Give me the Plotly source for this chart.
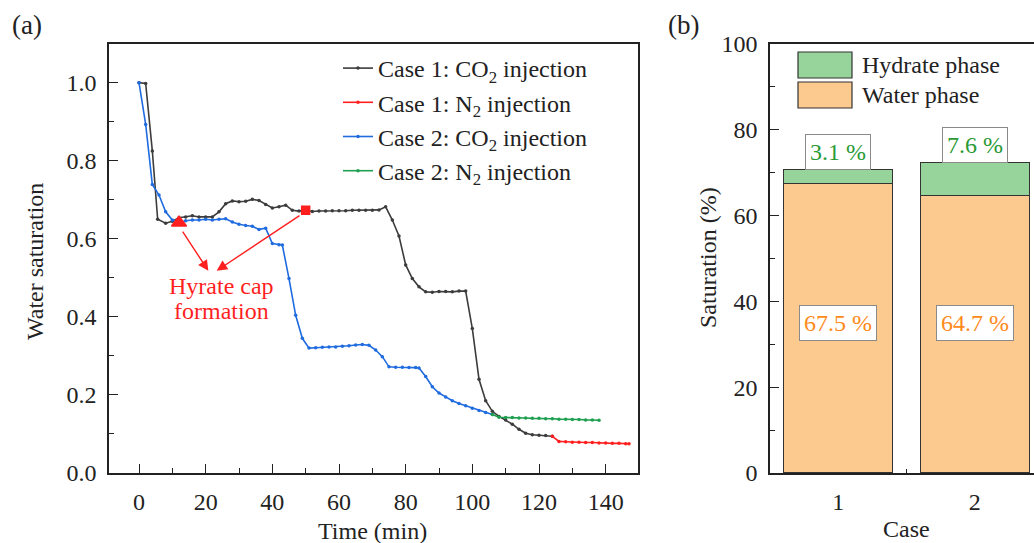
import plotly.graph_objects as go

# ---------------- data: panel (a) ----------------
c1_co2_t = [0, 2, 4, 5.6, 8, 10, 12, 14, 16, 18, 20, 22, 24, 26, 28, 30, 32, 34, 36, 38, 40, 42, 44, 46, 48,
            50, 52, 54, 56, 58, 60, 62, 64, 66, 68, 70, 72, 74, 76, 78, 80, 82, 84, 86, 88, 90, 92, 94, 96, 98,
            100, 102, 104, 106, 108, 110, 112, 114, 116, 118, 120, 122, 124]
c1_co2_s = [1.0, 0.998, 0.825, 0.650, 0.640, 0.645, 0.654, 0.656, 0.659, 0.656, 0.656, 0.656, 0.669, 0.690,
            0.697, 0.695, 0.696, 0.701, 0.698, 0.688, 0.679, 0.682, 0.686, 0.673, 0.671,
            0.673, 0.670, 0.671, 0.671, 0.672, 0.672, 0.672, 0.673, 0.673, 0.673, 0.673, 0.674, 0.682, 0.648,
            0.607, 0.533, 0.498, 0.477, 0.464, 0.463, 0.465, 0.465, 0.464, 0.466, 0.466,
            0.370, 0.240, 0.185, 0.158, 0.145, 0.136, 0.125, 0.112, 0.102, 0.098, 0.097, 0.096, 0.094]

c1_n2_t = [124, 126, 128, 130, 132, 134, 136, 138, 140, 142, 144, 146, 147]
c1_n2_s = [0.094, 0.081, 0.080, 0.079, 0.079, 0.078, 0.078, 0.077, 0.077, 0.076, 0.076, 0.075, 0.075]

c2_co2_t = [0, 2, 4, 6, 8, 10, 12, 14, 16, 18, 20, 22, 24, 26, 28, 30, 32, 34, 36, 38, 40, 42, 43, 45, 47,
            49, 51, 53, 55, 57, 59, 61, 63, 65, 67, 69, 71, 73, 75, 77, 79, 81, 83, 84, 86, 88, 90, 92, 94,
            96, 98, 100, 102, 104, 106]
c2_co2_s = [1.0, 0.893, 0.739, 0.712, 0.669, 0.648, 0.641, 0.646, 0.648, 0.648, 0.650, 0.648, 0.650, 0.651,
            0.643, 0.637, 0.634, 0.632, 0.624, 0.627, 0.588, 0.585, 0.584, 0.498, 0.404,
            0.345, 0.320, 0.321, 0.322, 0.323, 0.323, 0.325, 0.326, 0.328, 0.329, 0.327, 0.315, 0.298, 0.272,
            0.271, 0.271, 0.270, 0.270, 0.269, 0.247, 0.221, 0.205, 0.195, 0.185,
            0.178, 0.172, 0.166, 0.160, 0.155, 0.150]

c2_n2_t = [106, 108, 110, 112, 114, 116, 118, 120, 122, 124, 126, 128, 130, 132, 134, 136, 138]
c2_n2_s = [0.150, 0.143, 0.142, 0.142, 0.141, 0.141, 0.140, 0.140, 0.139, 0.139, 0.138, 0.138, 0.137,
           0.137, 0.136, 0.136, 0.135]

cap_t = [12, 50]
cap_s = [0.641, 0.673]
cap_symbols = ["triangle-up", "square"]

# ---------------- data: panel (b) ----------------
cases = [1, 2]
water_phase = [67.5, 64.7]
hydrate_phase = [3.1, 7.6]

FONT = "Liberation Serif, Times New Roman, serif"
BLACK = "#3c3c3c"
RED = "#ff1f1f"
BLUE = "#1f6be0"
GREEN = "#1fa050"
WATER = "#fcc98f"
HYDRATE = "#97d49b"

W, H = 1034, 543


def px_x(p):
    return p / W


def px_y(p):
    return 1 - p / H


fig = go.Figure()

series = [
    ("Case 1: CO<sub>2</sub> injection", c1_co2_t, c1_co2_s, BLACK),
    ("Case 1: N<sub>2</sub> injection", c1_n2_t, c1_n2_s, RED),
    ("Case 2: CO<sub>2</sub> injection", c2_co2_t, c2_co2_s, BLUE),
    ("Case 2: N<sub>2</sub> injection", c2_n2_t, c2_n2_s, GREEN),
]
for name, t, s, col in series:
    fig.add_trace(go.Scatter(
        x=t, y=s, name=name, mode="lines+markers",
        line=dict(color=col, width=1.6),
        marker=dict(color=col, size=3.5),
        xaxis="x", yaxis="y", showlegend=True,
    ))

fig.add_trace(go.Scatter(
    x=cap_t, y=cap_s, mode="markers", showlegend=False, opacity=1,
    marker=dict(color=RED, size=[13, 8], symbol=cap_symbols, opacity=1,
                line=dict(color=RED, width=1.5)),
    xaxis="x", yaxis="y",
))

# bars
fig.add_trace(go.Bar(
    x=cases, y=water_phase, name="Water phase", width=0.8,
    marker=dict(color=WATER, line=dict(color="#333333", width=1.2)),
    xaxis="x2", yaxis="y2", showlegend=False,
))
fig.add_trace(go.Bar(
    x=cases, y=hydrate_phase, name="Hydrate phase", width=0.8,
    marker=dict(color=HYDRATE, line=dict(color="#333333", width=1.2)),
    xaxis="x2", yaxis="y2", showlegend=False,
))

ax_common = dict(
    showline=True, linecolor="#222222", linewidth=1.6,
    ticks="inside", ticklen=9, tickwidth=1.4, tickcolor="#222222",
    showgrid=False, zeroline=False, automargin=False,
    tickfont=dict(family=FONT, size=24, color="#222222"),
)

fig.update_layout(
    width=W, height=H,
    margin=dict(l=0, r=0, t=0, b=0, pad=0, autoexpand=False),
    paper_bgcolor="white", plot_bgcolor="white",
    barmode="stack",
    font=dict(family=FONT, size=24, color="#222222"),
    xaxis=dict(
        domain=[px_x(109), px_x(638)], range=[-9, 149.7], anchor="y",
        tickvals=[0, 20, 40, 60, 80, 100, 120, 140], mirror=True,
        minor=dict(ticks="inside", ticklen=5, tickwidth=1.2, dtick=10, tickcolor="#222222"),
        ticklabelstandoff=6,
        **ax_common,
    ),
    yaxis=dict(
        domain=[px_y(473), px_y(43.6)], range=[0, 1.1], anchor="x",
        tickvals=[0, 0.2, 0.4, 0.6, 0.8, 1.0], ticktext=["0.0", "0.2", "0.4", "0.6", "0.8", "1.0"],
        mirror=True,
        minor=dict(ticks="inside", ticklen=5, tickwidth=1.2, dtick=0.1, tickcolor="#222222"),
        ticklabelstandoff=6,
        **ax_common,
    ),
    xaxis2=dict(
        domain=[px_x(770), 1.0], range=[0.5, 2.434], anchor="y2",
        tickvals=[1, 2], mirror=True,
        minor=dict(ticks="inside", ticklen=4, tickwidth=1.2, tickmode="array", tickvals=[1.5],
                   tickcolor="#222222"),
        ticklabelstandoff=6,
        **{**ax_common, "ticks": ""},
    ),
    yaxis2=dict(
        domain=[px_y(473), px_y(43.6)], range=[0, 100], anchor="x2",
        tickvals=[0, 20, 40, 60, 80, 100],
        minor=dict(ticks="inside", ticklen=5, tickwidth=1.2, dtick=10, tickcolor="#222222"),
        ticklabelstandoff=6,
        **ax_common,
    ),
    legend=dict(
        x=px_x(338), y=px_y(46), xanchor="left", yanchor="top",
        bgcolor="rgba(0,0,0,0)", borderwidth=0, traceorder="normal",
        font=dict(family=FONT, size=24, color="#222222"),
        itemwidth=30, tracegroupgap=0,
    ),
)

ann = []


def paper_text(x, y, text, size=24, color="#222222", angle=0, xanchor="center"):
    return dict(x=px_x(x), y=px_y(y), xref="paper", yref="paper", text=text, showarrow=False,
                xanchor=xanchor, yanchor="middle", textangle=angle,
                font=dict(family=FONT, size=size, color=color))


# panel labels
ann.append(paper_text(27, 25, "(a)", size=27))
ann.append(paper_text(683, 25, "(b)", size=27))
# axis titles
ann.append(paper_text(35, 262, "Water saturation", angle=-90))
ann.append(paper_text(372, 531, "Time (min)"))
ann.append(paper_text(708, 258, "Saturation (%)", angle=-90))
ann.append(paper_text(906, 529, "Case"))

# hydrate cap formation arrows
arrow_heads = [(20.8, 0.518), (23.3, 0.518)]
arrow_tails = [(12.8, 0.622), (48.6, 0.662)]
for (hx, hy), (tx, ty) in zip(arrow_heads, arrow_tails):
    ann.append(dict(x=hx, y=hy, ax=tx, ay=ty, xref="x", yref="y", axref="x", ayref="y",
                    text="", showarrow=True, arrowhead=2, arrowsize=1.5, arrowwidth=1.4,
                    arrowcolor=RED))
ann.append(dict(x=24.8, y=0.479, xref="x", yref="y", text="Hyrate cap", showarrow=False,
                xanchor="center", yanchor="middle", font=dict(family=FONT, size=24, color=RED)))
ann.append(dict(x=24.8, y=0.416, xref="x", yref="y", text="formation", showarrow=False,
                xanchor="center", yanchor="middle", font=dict(family=FONT, size=24, color=RED)))

# bar value labels
for c, wv, hv in zip(cases, water_phase, hydrate_phase):
    ann.append(dict(x=c, y=wv + hv, xref="x2", yref="y2", xanchor="center", yanchor="bottom",
                    text=f"{hv} %", showarrow=False, bgcolor="white", bordercolor="#8a8a8a",
                    borderwidth=1, borderpad=4, font=dict(family=FONT, size=24, color="#2a9a35")))
    ann.append(dict(x=c, y=35, xref="x2", yref="y2", xanchor="center", yanchor="middle",
                    text=f"{wv} %", showarrow=False, bgcolor="white", bordercolor="#8a8a8a",
                    borderwidth=1, borderpad=4, font=dict(family=FONT, size=24, color="#ff8a1a")))

# manual legend for panel (b)
legend_items = [("Hydrate phase", HYDRATE, 52, 78), ("Water phase", WATER, 82, 108)]
shapes = []
for label, col, y0, y1 in legend_items:
    shapes.append(dict(type="rect", xref="paper", yref="paper",
                       x0=px_x(798), x1=px_x(852), y0=px_y(y1), y1=px_y(y0),
                       fillcolor=col, line=dict(color="#333333", width=1.2)))
    ann.append(paper_text(860, (y0 + y1) / 2, label, xanchor="left"))

fig.update_layout(annotations=ann, shapes=shapes)

fig.write_html("out.html", config={"displayModeBar": False},
               post_script="document.body.style.margin='0px';")
